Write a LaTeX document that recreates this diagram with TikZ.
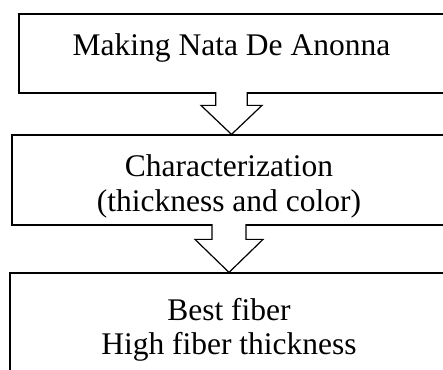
\documentclass[tikz,border=0pt]{standalone}
\usepackage{fontspec}
\setmainfont{Liberation Serif}
\usetikzlibrary{calc}
\usetikzlibrary{positioning}

% block arrow from the bottom of one box to the top of the next
% #1 from, #2 to, #3 half stem, #4 half head, #5 head length
\newcommand{\fatarrow}[5]{%
  \filldraw[fatline,fill=white]
    ($(#1.south)+(-#3,1.5)$) |- ($(#1.south |- #2.north)+(-#4,#5)$)
    -- (#1.south |- #2.north)
    -- ($(#1.south |- #2.north)+(#4,#5)$) -| ($(#1.south)+(#3,1.5)$);
}

\begin{document}
\begin{tikzpicture}[x=1pt,y=1pt]
  \tikzset{
    fatline/.style={draw=black,line width=1.2pt},
    stepbox/.style={fatline,rectangle,align=center,inner sep=0pt,
      font=\fontsize{31.5}{34.5}\selectfont},
  }
  \useasboundingbox (0,0) rectangle (443,369);
  %BOX 1
  \node[stepbox,minimum width=425pt,minimum height=79pt,
    text height=23pt,text depth=18pt] (make) at (231.5,315.5) {Making Nata De Anonna};
  %BOX 2
  \node[stepbox,minimum width=434pt,minimum height=90pt,
    text height=70pt,text depth=7pt] (char) at (229,189)
    {Characterization\\(thickness and color)};
  %BOX 3
  \node[stepbox,minimum width=438pt,minimum height=114pt] (best) at (229,39)
    {Best fiber\\High fiber thickness};
  %ARROWS
  \fatarrow{make}{char}{15.8}{30.5}{29}
  \fatarrow{char}{best}{17}{34}{33}
\end{tikzpicture}
\end{document}
